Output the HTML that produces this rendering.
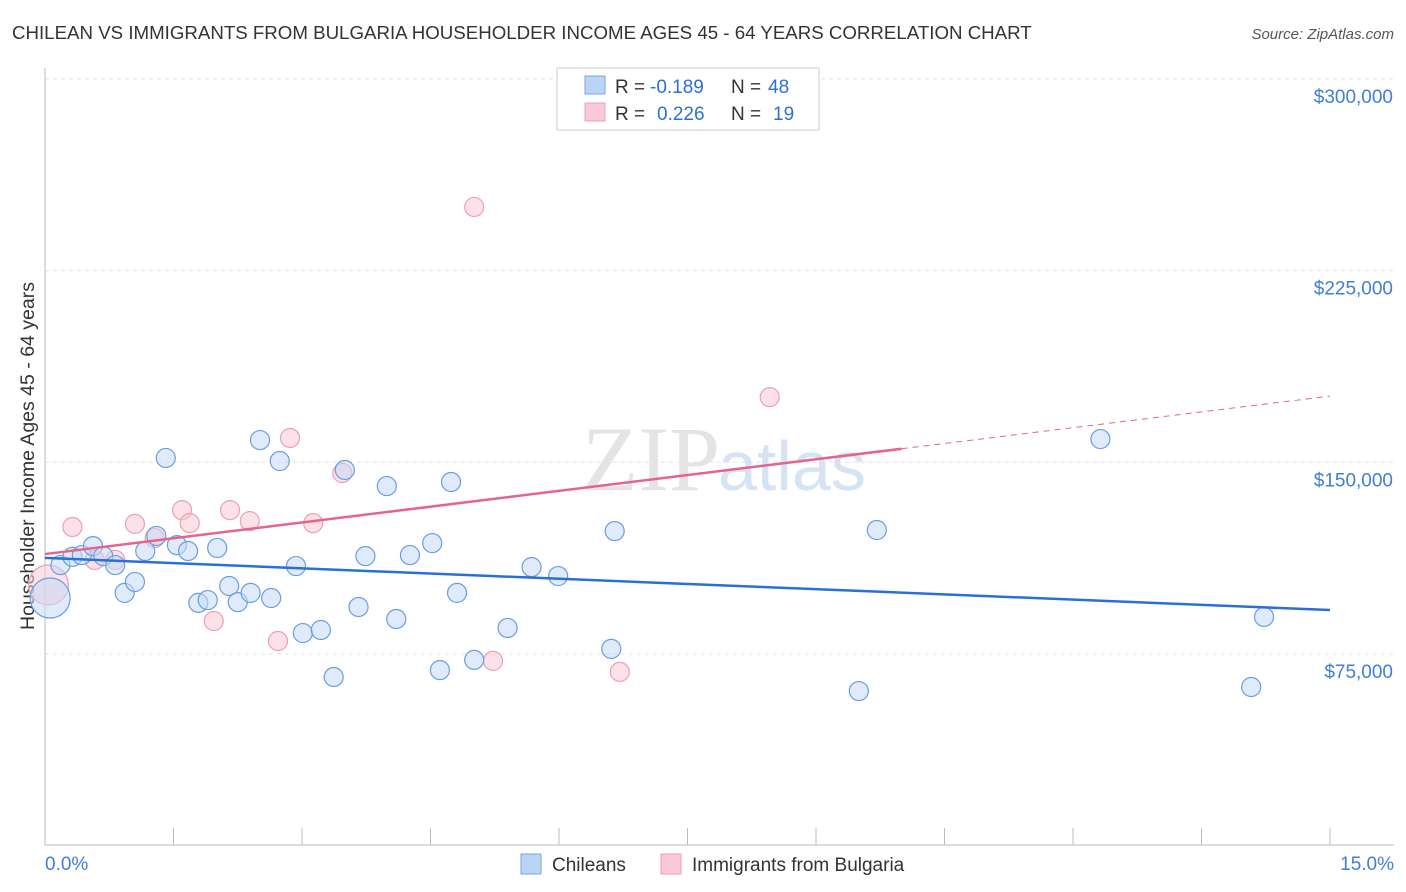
<!DOCTYPE html>
<html><head><meta charset="utf-8"><style>
body{margin:0;background:#fff;font-family:"Liberation Sans",sans-serif;}
svg{display:block}
</style></head><body>
<svg id="c" width="1406" height="892" xmlns="http://www.w3.org/2000/svg">
<text x="12" y="39" font-size="18.7" fill="#333">CHILEAN VS IMMIGRANTS FROM BULGARIA HOUSEHOLDER INCOME AGES 45 - 64 YEARS CORRELATION CHART</text>
<text x="1394" y="39" font-size="15" fill="#555" text-anchor="end" font-style="italic">Source: ZipAtlas.com</text>
<text x="720" y="490" font-size="92" fill="#e4e4e4" text-anchor="end" font-family="Liberation Serif">ZIP</text>
<text x="718" y="490" font-size="70" fill="#d5e3f3">atlas</text>
<text transform="translate(34,456) rotate(-90)" font-size="19.5" fill="#333" text-anchor="middle">Householder Income Ages 45 - 64 years</text>
<g id="grid"></g><g id="marks"></g>
<g>
<rect x="557" y="68" width="262" height="62" fill="#fff" stroke="#ccc"/>
<rect x="585" y="76" width="20" height="18" fill="#b9d4f4" stroke="#7ba6e0"/>
<text x="615" y="93" font-size="19" fill="#333">R =</text>
<text x="650" y="93" font-size="19" fill="#2c6fd6">-0.189</text>
<text x="731" y="93" font-size="19" fill="#333">N =</text>
<text x="768" y="93" font-size="19" fill="#2c6fd6">48</text>
<rect x="585" y="103" width="20" height="18" fill="#f9c9d7" stroke="#eaa0b6"/>
<text x="615" y="120" font-size="19" fill="#333">R =</text>
<text x="657" y="120" font-size="19" fill="#2c6fd6">0.226</text>
<text x="731" y="120" font-size="19" fill="#333">N =</text>
<text x="773" y="120" font-size="19" fill="#2c6fd6">19</text>
</g>
<g>
<rect x="521" y="854" width="20" height="20" fill="#b9d4f4" stroke="#7ba6e0"/>
<text x="552" y="871" font-size="19" fill="#333">Chileans</text>
<rect x="661" y="854" width="20" height="20" fill="#f9c9d7" stroke="#eaa0b6"/>
<text x="692" y="871" font-size="19" fill="#333">Immigrants from Bulgaria</text>
</g>
</svg>
<script>
const yTicks=[75000,150000,225000,300000];
const yTickLabels=["$75,000","$150,000","$225,000","$300,000"];
const xTickLabels=["0.0%","15.0%"];
const blueX=[0.06,0.18,0.32,0.43,0.56,0.68,0.82,0.93,1.05,1.17,1.30,1.41,1.54,1.67,1.79,1.90,2.01,2.15,2.25,2.40,2.51,2.64,2.74,2.93,3.01,3.22,3.37,3.50,3.66,3.74,3.99,4.10,4.26,4.52,4.61,4.74,4.81,5.01,5.40,5.68,5.99,6.61,6.65,9.50,9.71,12.32,14.08,14.23];
const blueY=[96900,109800,113000,113700,117200,113300,109800,98900,103200,115300,121200,151700,117600,115300,95000,96100,116500,101600,95300,98900,158700,96900,150500,109400,83200,84400,66000,147000,93400,113300,140700,88700,113700,118400,68700,142300,98900,72700,85200,109000,105500,77000,123100,60500,123500,159100,62100,89500];
const pinkX=[0.04,0.32,0.58,0.82,1.05,1.28,1.60,1.69,1.97,2.16,2.39,2.72,2.86,3.13,3.47,5.01,5.23,6.71,8.46];
const pinkY=[102000,124700,111800,111800,125900,120400,131300,126200,87900,131300,127000,80100,159500,126200,145800,249900,72300,68000,175500];
const blueTrend=[112600,92200];
const pinkTrend=[114100,175900];
const pinkSolidEnd=10.0;
const X=v=>45+v/15*1285, Y=v=>654-(v-75000)/75000*191.7;
const NS="http://www.w3.org/2000/svg";
const g=document.getElementById('grid'), m=document.getElementById('marks');
function el(p,t,a){const e=document.createElementNS(NS,t);for(const k in a)e.setAttribute(k,a[k]);p.appendChild(e);return e;}
yTicks.forEach((v,i)=>{
 const l=el(g,'line',{x1:45,x2:1394,y1:Y(v),y2:Y(v),stroke:'#e2e2e2','stroke-dasharray':'4,4'});
 
 
 const t=el(g,'text',{x:1393,y:Y(v)+24,'font-size':19,fill:'#3f7fd6','text-anchor':'end'});t.textContent=yTickLabels[i];
 
 
});
const ax=el(g,'line',{x1:45,x2:45,y1:68,y2:845,stroke:'#bbb'});


const bx=el(g,'line',{x1:45,x2:1394,y1:845,y2:845,stroke:'#bbb'});


for(let i=1;i<=10;i++){const tk=el(g,'line',{x1:X(i*1.5),x2:X(i*1.5),y1:828,y2:845,stroke:'#bbb'});
 
 }
[[0,45,'start'],[15,1394,'end']].forEach((a,i)=>{const t=el(g,'text',{x:a[1],y:870,'font-size':19,fill:'#3f7fd6','text-anchor':a[2]});t.textContent=xTickLabels[i];
 
 });
function dot(x,y,r,f,s,n){const c=el(m,'circle',{cx:X(x),cy:Y(y),r:r,fill:f,'fill-opacity':0.55,stroke:s,'stroke-width':1.2});
 
 }
pinkX.forEach((x,i)=>dot(x,pinkY[i],i==0?20:9.5,'#f9c9d7','#eaa0b6','bulgaria-point'));
blueX.forEach((x,i)=>dot(x,blueY[i],i==0?20:9.5,'#c4daf5','#6a9de0','chilean-point'));
const bl=el(m,'line',{x1:X(0),y1:Y(blueTrend[0]),x2:X(15),y2:Y(blueTrend[1]),stroke:'#2a6fd6','stroke-width':2.5});


const py=x=>pinkTrend[0]+(pinkTrend[1]-pinkTrend[0])*x/15;
const pl=el(m,'line',{x1:X(0),y1:Y(py(0)),x2:X(pinkSolidEnd),y2:Y(py(pinkSolidEnd)),stroke:'#e5638c','stroke-width':2.5});


const pd=el(m,'line',{x1:X(pinkSolidEnd),y1:Y(py(pinkSolidEnd)),x2:X(15),y2:Y(py(15)),stroke:'#e5638c','stroke-width':1,'stroke-dasharray':'6,5'});


</script>
</body></html>
